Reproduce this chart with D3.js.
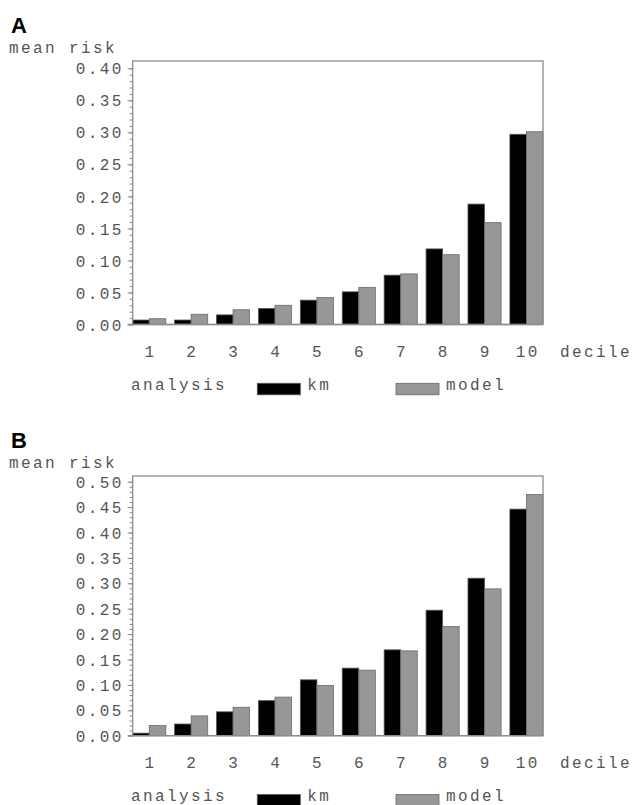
<!DOCTYPE html>
<html>
<head>
<meta charset="utf-8">
<script src="https://cdn.jsdelivr.net/npm/d3@7"></script>
<style>
  body { margin: 0; background: #fff; }
  svg { display: block; }
  .mono { font-family: "Liberation Mono", "Courier New", monospace; font-size: 16px; letter-spacing: 2.4px; fill: #555; }
  .panel-label { font-family: "Liberation Sans", Arial, sans-serif; font-weight: bold; fill: #000; }
</style>
</head>
<body>
<script>
// data
const deciles = ["1", "2", "3", "4", "5", "6", "7", "8", "9", "10"];
const series = ["km", "model"];

const kmA    = [0.007, 0.007, 0.015, 0.025, 0.038, 0.051, 0.077, 0.118, 0.188, 0.297];
const modelA = [0.009, 0.016, 0.023, 0.030, 0.042, 0.058, 0.079, 0.109, 0.159, 0.301];
const kmB    = [0.005, 0.023, 0.047, 0.069, 0.110, 0.133, 0.169, 0.247, 0.310, 0.446];
const modelB = [0.020, 0.039, 0.056, 0.076, 0.099, 0.129, 0.167, 0.215, 0.289, 0.475];

const yTicksA = [0, 0.05, 0.10, 0.15, 0.20, 0.25, 0.30, 0.35, 0.40];
const yTicksB = [0, 0.05, 0.10, 0.15, 0.20, 0.25, 0.30, 0.35, 0.40, 0.45, 0.50];

const colors = { km: "#000000", model: "#979797" };
const strokes = { km: "#555555", model: "#6a6a6a" };

const width = 635, height = 805;

const svg = d3.select("body")
    .append("svg")
    .attr("width", width)
    .attr("height", height);

function drawPanel(opts) {
    const g = svg.append("g").attr("transform", `translate(0,${opts.offsetY})`);
    const left = 132.7, right = 543;

    const yMax = opts.ticks[opts.ticks.length - 1];
    const yScale = d3.scaleLinear()
        .domain([0, yMax])
        .range([opts.zeroY, opts.topTickY]);

    const x0 = d3.scaleBand()
        .domain(deciles)
        .range([left, right])
        .paddingInner(0.21)
        .paddingOuter(0);
    const x1 = d3.scaleBand()
        .domain(series)
        .range([0, x0.bandwidth()]);

    const rows = deciles.map((d, i) => ({ decile: d, km: opts.km[i], model: opts.model[i] }));

    // bars
    g.append("g")
        .selectAll("g")
        .data(rows)
        .join("g")
        .attr("transform", (d) => `translate(${x0(d.decile)},0)`)
        .selectAll("rect")
        .data((d) => series.map((s) => ({ key: s, value: d[s] })))
        .join("rect")
        .attr("x", (d) => x1(d.key))
        .attr("width", x1.bandwidth())
        .attr("y", (d) => yScale(d.value))
        .attr("height", (d) => opts.zeroY - yScale(d.value))
        .attr("fill", (d) => colors[d.key])
        .attr("stroke", (d) => strokes[d.key])
        .attr("stroke-width", 0.8);

    // minor ticks
    const minor = d3.range(0, Math.round(yMax * 100) + 1).map((v) => v / 100);
    g.append("g")
        .attr("transform", `translate(${left},0)`)
        .call(d3.axisLeft(yScale).tickValues(minor).tickSize(3).tickFormat(""))
        .call((a) => a.select(".domain").remove())
        .call((a) => a.selectAll("line").attr("stroke", "#888"));

    // major ticks + labels
    g.append("g")
        .attr("transform", `translate(${left},0)`)
        .call(d3.axisLeft(yScale).tickValues(opts.ticks).tickSize(5).tickPadding(4).tickFormat(d3.format(".2f")))
        .call((a) => a.select(".domain").remove())
        .call((a) => a.selectAll("line").attr("stroke", "#888"))
        .call((a) => a.selectAll("text")
            .attr("class", "mono")
            .attr("font-family", null)
            .attr("font-size", null)
            .attr("fill", null)
            .attr("dy", "0.35em"));

    // frame
    g.append("rect")
        .attr("x", left)
        .attr("y", opts.boxTop)
        .attr("width", right - left)
        .attr("height", opts.zeroY - opts.boxTop)
        .attr("fill", "none")
        .attr("stroke", "#8c8c8c")
        .attr("stroke-width", 1.3);
    // zero line reaches the 0.00 tick
    g.append("line")
        .attr("x1", left - 5).attr("x2", right)
        .attr("y1", opts.zeroY).attr("y2", opts.zeroY)
        .attr("stroke", "#8c8c8c")
        .attr("stroke-width", 1.3);

    // decile labels
    g.append("g")
        .selectAll("text")
        .data(deciles)
        .join("text")
        .attr("class", "mono")
        .attr("x", (d) => x0(d) + x0.bandwidth() / 2 + 1.2)
        .attr("y", opts.zeroY + 32)
        .attr("text-anchor", "middle")
        .text((d) => d);

    g.append("text")
        .attr("class", "mono")
        .attr("x", 560)
        .attr("y", opts.zeroY + 32)
        .text("decile");

    g.append("text")
        .attr("class", "mono")
        .attr("x", 9)
        .attr("y", opts.boxTop - 8.5)
        .text("mean risk");

    g.append("text")
        .attr("class", "panel-label")
        .attr("x", 11)
        .attr("y", opts.labelY)
        .attr("font-size", 22)
        .text(opts.label);

    // legend
    const legY = opts.zeroY + 58.8;
    g.append("text")
        .attr("class", "mono")
        .attr("x", 131)
        .attr("y", legY + 6.5)
        .text("analysis");
    const legX = { km: 257.3, model: 396 };
    const item = g.append("g")
        .selectAll("g")
        .data(series)
        .join("g")
        .attr("transform", (d) => `translate(${legX[d]},${legY})`);
    item.append("rect")
        .attr("width", 43)
        .attr("height", 11.5)
        .attr("fill", (d) => colors[d])
        .attr("stroke", (d) => strokes[d])
        .attr("stroke-width", 0.8);
    item.append("text")
        .attr("class", "mono")
        .attr("x", 50)
        .attr("y", 6.5)
        .text((d) => d);
}

drawPanel({
    offsetY: 0, label: "A", labelY: 33,
    km: kmA, model: modelA, ticks: yTicksA,
    boxTop: 61, zeroY: 324.5, topTickY: 68.3
});
drawPanel({
    offsetY: 0, label: "B", labelY: 448,
    km: kmB, model: modelB, ticks: yTicksB,
    boxTop: 476, zeroY: 735.7, topTickY: 481.7
});
</script>
</body>
</html>
